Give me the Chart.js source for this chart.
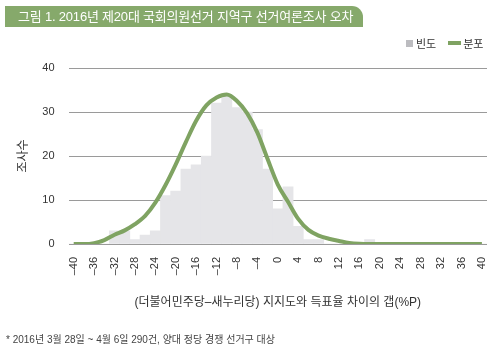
<!DOCTYPE html>
<html>
<head>
<meta charset="utf-8">
<script src="https://cdn.jsdelivr.net/npm/chart.js@4"></script>
<style>
  body { margin: 0; background: #fff; font-family: "Liberation Sans", "Noto Sans CJK KR", sans-serif; }
  #wrap { position: relative; width: 496px; height: 351px; overflow: hidden; }
  #chart { position: absolute; left: 0; top: 0; }
  .title {
    position: absolute; left: 5px; top: 6px; width: 358px; height: 21px;
    background: #86a96b; border-top-right-radius: 11px;
    color: #fff; font-size: 13px; line-height: 21px; padding-left: 13px; box-sizing: border-box;
    letter-spacing: -0.2px; white-space: nowrap;
  }
  .legend { position: absolute; top: 35px; left: 406px; font-size: 11px; color: #333; white-space: nowrap; }
  .legend span { display: inline-block; vertical-align: middle; }
  .sq { width: 7px; height: 7px; background: #bcbcc0; margin-right: 3px; }
  .ln { width: 13px; height: 4px; background: #7fa362; margin-left: 12px; margin-right: 2px; }
  .note { position: absolute; left: 6px; top: 331px; font-size: 10px; color: #444; white-space: nowrap; }
</style>
</head>
<body>
<div id="wrap">
  <canvas id="chart" width="496" height="351"></canvas>
  <div class="title">그림 1. 2016년 제20대 국회의원선거 지역구 선거여론조사 오차</div>
  <div class="legend"><span class="sq"></span><span>빈도</span><span class="ln"></span><span>분포</span></div>
  <div class="note">* 2016년 3월 28일 ~ 4월 6일 290건, 양대 정당 경쟁 선거구 대상</div>
</div>
<script>
// bin centres (%P gap), 2 wide
const bins = [-40, -38, -36, -34, -32, -30, -28, -26, -24, -22, -20, -18, -16, -14, -12, -10, -8, -6, -4, -2,
  0, 2, 4, 6, 8, 10, 12, 14, 16, 18, 20, 22, 24, 26, 28, 30, 32, 34, 36, 38, 40];
// 빈도 (count of surveys per bin)
const freq = [0, 0, 0, 0, 3, 3, 1, 2, 3, 11, 12, 17, 18, 20, 32, 34, 31, 30, 26, 17,
  8, 13, 4, 1, 1, 0, 0, 0, 0, 1, 0, 0, 0, 0, 0, 0, 0, 0, 0, 0, 0];
// 분포 (smoothed distribution)
const dist = [0, 0, 0.2, 0.9, 2.1, 3.1, 4.5, 6.4, 9.4, 13.4, 18.1, 23.2, 28.0, 31.5, 33.3, 34.0, 32.5, 29.7, 25.3, 19.3,
  13.5, 9.6, 5.7, 3.2, 1.9, 1.2, 0.7, 0.25, 0.05, 0, 0, 0, 0, 0, 0, 0, 0, 0, 0, 0, 0];
const xTicks = [-40, -36, -32, -28, -24, -20, -16, -12, -8, -4, 0, 4, 8, 12, 16, 20, 24, 28, 32, 36, 40];
const yTicks = [0, 10, 20, 30, 40];

const tickFont = { family: "'Liberation Sans', 'Noto Sans CJK KR', sans-serif", size: 11 };

document.addEventListener("DOMContentLoaded", () => {
  new Chart(document.querySelector("#chart"), {
    type: "bar",
    data: {
      datasets: [
        {
          type: "line",
          label: "분포",
          data: bins.map((b, i) => ({ x: b, y: dist[i] })),
          borderColor: "#7fa362",
          borderWidth: 4,
          pointRadius: 0,
          cubicInterpolationMode: "monotone",
          fill: false,
          order: 0,
        },
        {
          label: "빈도",
          data: bins.map((b, i) => ({ x: b, y: freq[i] })),
          backgroundColor: "#e5e5e8",
          borderWidth: 0,
          barPercentage: 1,
          categoryPercentage: 1,
          order: 1,
        },
      ],
    },
    options: {
      responsive: false,
      animation: false,
      devicePixelRatio: 1,
      layout: { padding: { left: 0, right: 9, top: 68, bottom: 41 } },
      plugins: { legend: { display: false }, tooltip: { enabled: false } },
      scales: {
        x: {
          type: "linear",
          offset: false,
          min: -41,
          max: 41,
          grid: { display: false, drawTicks: false },
          border: { display: false },
          afterBuildTicks: (s) => { s.ticks = xTicks.map((v) => ({ value: v })); },
          afterFit: (s) => { s.height = 66; s.paddingLeft = 0; s.paddingRight = 0; },
          ticks: {
            autoSkip: false,
            minRotation: 90,
            maxRotation: 90,
            padding: 13,
            color: "#333",
            font: tickFont,
            callback: (v) => String(v).replace("-", "–"),
          },
          title: {
            display: true,
            text: "(더불어민주당–새누리당) 지지도와 득표율 차이의 갭(%P)",
            color: "#333",
            font: { family: "'Liberation Sans', 'Noto Sans CJK KR', sans-serif", size: 12 },
            padding: 0,
          },
        },
        y: {
          min: 0,
          max: 40,
          afterBuildTicks: (s) => { s.ticks = yTicks.map((v) => ({ value: v })); },
          afterFit: (s) => { s.width = 68.6; s.paddingTop = 0; s.paddingBottom = 0; },
          grid: { color: "#9a9a9a", lineWidth: 1, drawTicks: false },
          border: { display: false },
          ticks: { padding: 14, color: "#333", font: tickFont },
          title: {
            display: true,
            text: "조사수",
            color: "#333",
            font: { family: "'Noto Sans CJK KR', sans-serif", size: 12 },
            padding: { top: 15, bottom: 0 },
          },
        },
      },
    },
  });
});
</script>
</body>
</html>
